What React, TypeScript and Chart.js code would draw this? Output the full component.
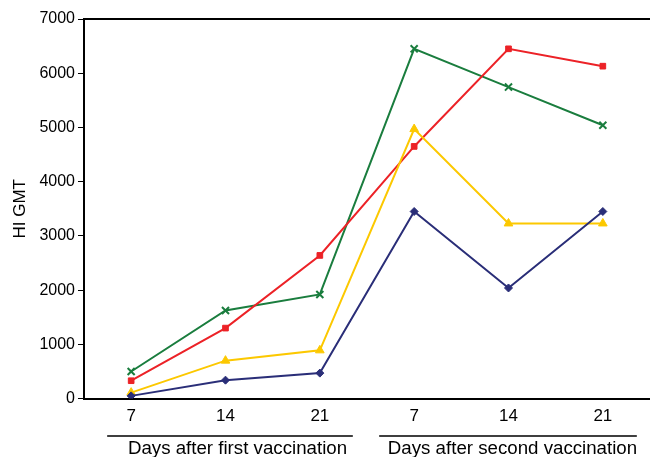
import React, { useEffect, useRef } from "react";
import { Chart, registerables } from "chart.js";

Chart.register(...registerables);

const categories = ["7", "14", "21", "7 ", "14 ", "21 "];
const groupLabels = ["Days after first vaccination", "Days after second vaccination"];
const yTicks = [0, 1000, 2000, 3000, 4000, 5000, 6000, 7000];

const navySeries = [50, 340, 470, 3450, 2040, 3450];
const yellowSeries = [110, 700, 890, 4970, 3230, 3230];
const redSeries = [330, 1300, 2640, 4650, 6450, 6130];
const greenSeries = [500, 1625, 1920, 6450, 5745, 5040];

const FONT = "'Liberation Sans', Arial, Helvetica, sans-serif";

const framePlugin = {
  id: "frame",
  afterDraw(chart: any) {
    const { ctx, chartArea, scales } = chart;
    const x = scales.x;
    ctx.save();
    ctx.strokeStyle = "#000";
    ctx.lineWidth = 2;
    ctx.beginPath();
    ctx.moveTo(chartArea.left - 1, chartArea.top);
    ctx.lineTo(chart.width, chartArea.top);
    ctx.stroke();

    const p0 = x.getPixelForValue(0);
    const p2 = x.getPixelForValue(2);
    const p3 = x.getPixelForValue(3);
    const p5 = x.getPixelForValue(5);
    const lineY = 436;
    ctx.lineWidth = 1.5;
    ctx.beginPath();
    ctx.moveTo(p0 - 24, lineY);
    ctx.lineTo(p2 + 33, lineY);
    ctx.moveTo(p3 - 35, lineY);
    ctx.lineTo(p5 + 34, lineY);
    ctx.stroke();

    ctx.fillStyle = "#000";
    ctx.font = `18.7px ${FONT}`;
    ctx.textAlign = "center";
    ctx.textBaseline = "alphabetic";
    ctx.fillText(groupLabels[0], (p0 + p2) / 2 + 12, 454);
    ctx.fillText(groupLabels[1], (p3 + p5) / 2 + 4, 454);
    ctx.restore();
  },
};

export default function App() {
  const ref = useRef<HTMLCanvasElement>(null);
  useEffect(() => {
    document.body.style.margin = "0";
    const ds = (label: string, data: number[], color: string, style: any, radius: number) => ({
      label,
      data,
      borderColor: color,
      backgroundColor: color,
      borderWidth: 2,
      pointStyle: style,
      pointRadius: radius,
      pointBorderWidth: style === "crossRot" ? 2 : 1,
      pointBorderColor: color,
      pointBackgroundColor: color,
      tension: 0,
    });
    const chart = new Chart(ref.current!, {
      type: "line",
      data: {
        labels: categories,
        datasets: [
          ds("navy", navySeries, "#2a2e78", "rectRot", 4),
          ds("yellow", yellowSeries, "#fcc800", "triangle", 5),
          ds("red", redSeries, "#ec2227", "rect", 4),
          ds("green", greenSeries, "#1a7d3e", "crossRot", 5),
        ],
      },
      plugins: [framePlugin],
      options: {
        responsive: false,
        animation: false,
        layout: { autoPadding: false, padding: { top: 19, right: 0, bottom: 22, left: 10 } },
        plugins: { legend: { display: false }, tooltip: { enabled: false } },
        scales: {
          x: {
            offset: true,
            grid: { display: true, drawOnChartArea: false, drawTicks: false },
            border: { display: true, color: "#000", width: 2 },
            ticks: {
              color: "#000",
              font: { family: FONT, size: 17 },
              padding: 8,
              callback: (v: any) => categories[v].trim(),
            },
          },
          y: {
            min: 0,
            max: 7000,
            afterBuildTicks: (axis: any) => {
              axis.ticks = yTicks.map((v) => ({ value: v }));
            },
            grid: { display: true, drawOnChartArea: false, drawTicks: true, tickLength: 6, color: "#000", lineWidth: 1 },
            border: { display: true, color: "#000", width: 2 },
            ticks: { color: "#000", font: { family: FONT, size: 16 }, padding: 3, callback: (v: any) => String(v) },
            title: { display: true, text: "HI GMT", color: "#000", font: { family: FONT, size: 17 }, padding: { top: 0, bottom: 6 } },
          },
        },
      },
    });
    return () => chart.destroy();
  }, []);
  return <canvas ref={ref} width={650} height={457} style={{ display: "block" }} />;
}
